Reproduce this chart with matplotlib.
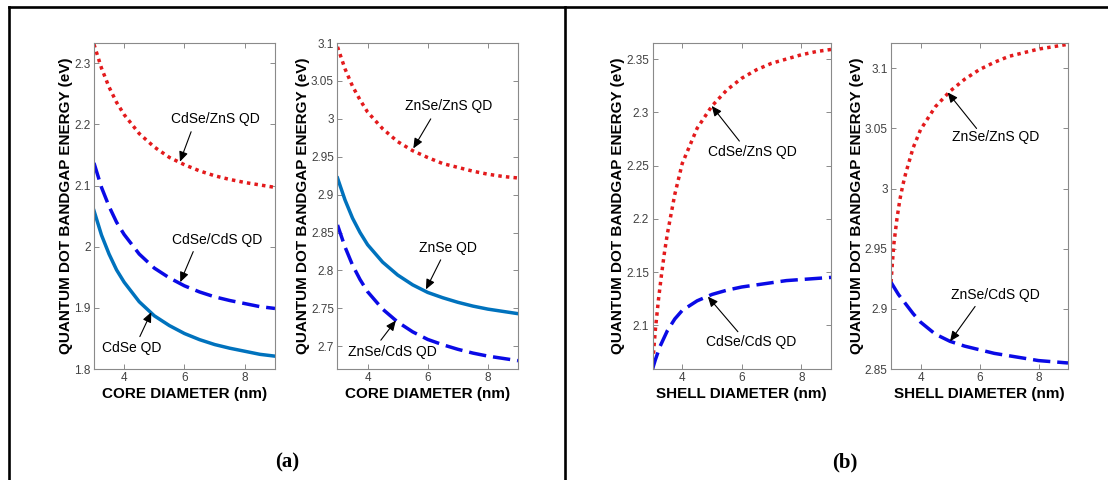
import matplotlib
matplotlib.use('Agg')
import matplotlib.pyplot as plt
from matplotlib.lines import Line2D
from matplotlib.ticker import FuncFormatter

plt.rcParams['font.family'] = ['Liberation Sans', 'DejaVu Sans']

# core-diameter sweep (panel a)
core_d = [3, 3.25, 3.5, 3.75, 4, 4.5, 5, 5.5, 6, 6.5, 7, 7.5, 8, 8.5, 9]
cdse_zns_core = [2.331, 2.292, 2.261, 2.236, 2.216, 2.185, 2.163, 2.146, 2.134,
                 2.124, 2.116, 2.110, 2.105, 2.101, 2.097]
cdse_cds_core = [2.137, 2.097, 2.066, 2.040, 2.020, 1.988, 1.965, 1.949, 1.936,
                 1.926, 1.918, 1.912, 1.907, 1.902, 1.899]
cdse_core = [2.059, 2.019, 1.988, 1.962, 1.942, 1.910, 1.887, 1.871, 1.858,
             1.848, 1.840, 1.834, 1.829, 1.824, 1.821]
znse_zns_core = [3.095, 3.066, 3.043, 3.025, 3.009, 2.987, 2.970, 2.958, 2.949,
                 2.941, 2.936, 2.931, 2.927, 2.924, 2.922]
znse_core = [2.922, 2.893, 2.869, 2.850, 2.834, 2.811, 2.794, 2.781, 2.771,
             2.764, 2.758, 2.753, 2.749, 2.746, 2.743]
znse_cds_core = [2.860, 2.831, 2.807, 2.788, 2.772, 2.749, 2.732, 2.719, 2.709,
                 2.702, 2.696, 2.691, 2.687, 2.684, 2.681]

# shell-diameter sweep (panel b)
shell_d_fast = [3, 3.05, 3.1, 3.2, 3.3, 3.4, 3.5, 3.75, 4, 4.5, 5, 5.5, 6, 6.5, 7, 7.5, 8, 8.5, 9]
cdse_zns_shell = [2.059, 2.080, 2.097, 2.124, 2.147, 2.168, 2.186, 2.223, 2.252, 2.285,
                  2.306, 2.321, 2.332, 2.340, 2.346, 2.350, 2.354, 2.357, 2.359]
znse_zns_shell = [2.922, 2.940, 2.955, 2.975, 2.991, 3.003, 3.013, 3.034, 3.049, 3.068,
                  3.081, 3.091, 3.099, 3.105, 3.110, 3.113, 3.116, 3.118, 3.120]
shell_d_slow = [3, 3.1, 3.25, 3.5, 3.75, 4, 4.5, 5, 5.5, 6, 6.5, 7, 7.5, 8, 8.5, 9]
cdse_cds_shell = [2.059, 2.068, 2.080, 2.095, 2.106, 2.114, 2.123, 2.129, 2.133,
                  2.136, 2.138, 2.140, 2.142, 2.143, 2.144, 2.145]
shell_d_cds = [3, 3.25, 3.5, 3.75, 4, 4.5, 5, 5.5, 6, 6.5, 7, 7.5, 8, 8.5, 9]
znse_cds_shell = [2.922, 2.912, 2.904, 2.896, 2.889, 2.879, 2.873, 2.869, 2.866,
                  2.863, 2.861, 2.859, 2.857, 2.856, 2.855]

RED = '#e31a1c'
BLUE = '#0a0ae6'
CYAN = '#0072BD'
LW = 2.5


def style_axes(ax, xlabel, ylim, yticks):
    ax.set_xlim(3, 9)
    ax.set_ylim(*ylim)
    ax.set_xticks([4, 6, 8])
    ax.set_yticks(yticks)
    fmt = FuncFormatter(lambda v, p: '%g' % round(v, 3))
    ax.yaxis.set_major_formatter(fmt)
    ax.xaxis.set_major_formatter(fmt)
    for s in ax.spines.values():
        s.set_color('#8a8a8a'); s.set_linewidth(0.8)
    ax.tick_params(direction='in', top=True, right=True, length=3.5, width=0.7,
                   color='#8a8a8a', labelcolor='#404040', labelsize=8.5, pad=2.5)
    ax.set_xlabel(xlabel, fontsize=11, fontweight='bold', labelpad=1.5)
    ax.set_ylabel('QUANTUM DOT BANDGAP ENERGY (eV)', fontsize=11, fontweight='bold', labelpad=0.5)


def label(ax, text, txy, tail, tip):
    ax.text(txy[0], txy[1], text, fontsize=10, ha='center', va='center', color='k')
    ax.annotate('', xy=tip, xytext=tail,
                arrowprops=dict(arrowstyle='-|>,head_length=0.5,head_width=0.22',
                                color='k', lw=0.8, shrinkA=0, shrinkB=0, mutation_scale=12))


dotted = (0, (1, 1.2))
dashed = (0, (5, 2))

fig = plt.figure(figsize=(11.08, 4.8), dpi=100)
ax1 = fig.add_axes([0.0848, 0.23125, 0.1634, 0.679])
ax2 = fig.add_axes([0.3046, 0.23125, 0.1629, 0.679])
ax3 = fig.add_axes([0.5889, 0.23125, 0.1611, 0.679])
ax4 = fig.add_axes([0.8042, 0.23125, 0.1597, 0.679])

ax1.plot(core_d, cdse_zns_core, color=RED, lw=LW, linestyle=dotted)
ax1.plot(core_d, cdse_cds_core, color=BLUE, lw=LW, linestyle=dashed)
ax1.plot(core_d, cdse_core, color=CYAN, lw=LW)
style_axes(ax1, 'CORE DIAMETER (nm)', (1.8, 2.333), [1.8, 1.9, 2.0, 2.1, 2.2, 2.3])
label(ax1, 'CdSe/ZnS QD', (7.01, 2.209), (6.22, 2.188), (5.85, 2.139))
label(ax1, 'CdSe/CdS QD', (7.07, 2.011), (6.29, 1.992), (5.86, 1.942))
label(ax1, 'CdSe QD', (4.25, 1.834), (4.52, 1.853), (4.9, 1.893))

ax2.plot(core_d, znse_zns_core, color=RED, lw=LW, linestyle=dotted)
ax2.plot(core_d, znse_core, color=CYAN, lw=LW)
ax2.plot(core_d, znse_cds_core, color=BLUE, lw=LW, linestyle=dashed)
style_axes(ax2, 'CORE DIAMETER (nm)', (2.67, 3.1),
           [2.7, 2.75, 2.8, 2.85, 2.9, 2.95, 3.0, 3.05, 3.1])
label(ax2, 'ZnSe/ZnS QD', (6.71, 3.0175), (6.10, 3.0), (5.52, 2.961))
label(ax2, 'ZnSe QD', (6.66, 2.829), (6.43, 2.814), (5.94, 2.775))
label(ax2, 'ZnSe/CdS QD', (4.83, 2.693), (4.44, 2.708), (4.94, 2.734))

ax3.plot(shell_d_fast, cdse_zns_shell, color=RED, lw=LW, linestyle=dotted)
ax3.plot(shell_d_slow, cdse_cds_shell, color=BLUE, lw=LW, linestyle=dashed)
style_axes(ax3, 'SHELL DIAMETER (nm)', (2.059, 2.365),
           [2.1, 2.15, 2.2, 2.25, 2.3, 2.35])
label(ax3, 'CdSe/ZnS QD', (6.36, 2.2625), (5.92, 2.273), (4.99, 2.306))
label(ax3, 'CdSe/CdS QD', (6.30, 2.0844), (5.87, 2.094), (4.86, 2.127))

ax4.plot(shell_d_fast, znse_zns_shell, color=RED, lw=LW, linestyle=dotted)
ax4.plot(shell_d_cds, znse_cds_shell, color=BLUE, lw=LW, linestyle=dashed)
style_axes(ax4, 'SHELL DIAMETER (nm)', (2.85, 3.121),
           [2.85, 2.9, 2.95, 3.0, 3.05, 3.1])
label(ax4, 'ZnSe/ZnS QD', (6.53, 3.0432), (5.90, 3.050), (4.92, 3.080))
label(ax4, 'ZnSe/CdS QD', (6.53, 2.9115), (5.85, 2.902), (5.0, 2.873))

# frame lines around the two panels
fig.add_artist(Line2D([0.0081, 1.0], [0.9854, 0.9854], color='k', lw=1.9))
fig.add_artist(Line2D([0.0081, 0.0081], [0.0, 0.9854], color='k', lw=1.9))
fig.add_artist(Line2D([0.5099, 0.5099], [0.0, 0.9854], color='k', lw=1.9))

fig.text(0.259, 0.036, '(a)', fontsize=15, fontweight='bold', family='Liberation Serif',
         ha='center', va='center')
fig.text(0.7625, 0.036, '(b)', fontsize=15, fontweight='bold', family='Liberation Serif',
         ha='center', va='center')

fig.savefig('out.png', dpi=100)
